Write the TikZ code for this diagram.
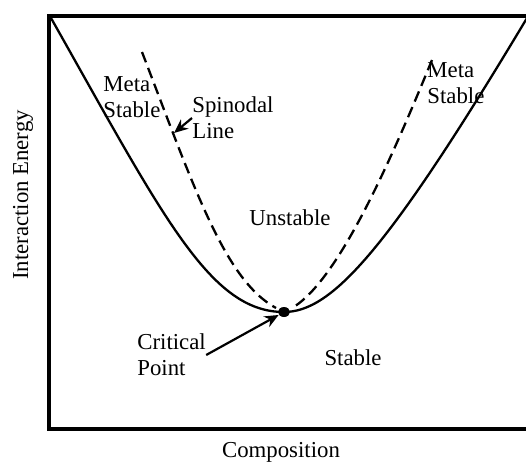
\documentclass[tikz,border=0pt]{standalone}
\usepackage{fontspec}
\setmainfont{Liberation Serif}
\usepackage{tikz}
\usetikzlibrary{positioning}
\usetikzlibrary{shapes.geometric}
\usetikzlibrary{arrows.meta}

\begin{document}
\begin{tikzpicture}[x=0.5pt, y=-0.5pt,
    lbl/.style={inner sep=0pt, align=left, font=\fontsize{11.4}{13}\selectfont},
    curve/.style={line width=1.15pt},
    spinodal/.style={line width=1.15pt, dash pattern=on 5.5pt off 3pt},
    pointer/.style={line width=1.1pt, -{Stealth[length=7pt, width=6pt]}}]
    \useasboundingbox (0,0) rectangle (526,462);

    % Frame (open on the right)
    \draw[line width=1.9pt] (527,16) -- (49,16) -- (49,429) -- (527,429);

    % Free energy curve
    \draw[curve] (51,18) .. controls (164,218) and (210,312) .. (284,312)
                         .. controls (332,312) and (388,250) .. (527,18);

    % Spinodal line
    \draw[spinodal] (142,52) .. controls (195,190) and (225,280) .. (276,308);
    \draw[spinodal] (432,60) .. controls (395,150) and (340,280) .. (292,308);

    % Critical point
    \node[ellipse, fill=black, inner sep=0pt, minimum width=6pt, minimum height=5pt] (crit) at (284,312) {};

    % Labels
    \node[lbl, anchor=north west] (metaL) at (103,76) {Meta\\Stable};
    \node[lbl, anchor=north west] (metaR) at (427,62) {Meta\\Stable};
    \node[lbl, anchor=west] (spin) at (192,118) {Spinodal\\Line};
    \node[lbl] (unst) at (290,218) {Unstable};
    \node[lbl, anchor=west] (critlbl) at (137,355) {Critical\\Point};
    \node[lbl] (stab) at (353,358) {Stable};
    \node[lbl] (xlab) at (281,452) {Composition};
    \node[lbl, rotate=90] (ylab) at (23,195) {Interaction Energy};

    % Pointers
    \coordinate (spinpt) at (174,133);
    \draw[pointer] (spin.west) -- (spinpt);
    \draw[pointer] (critlbl.east) -- (crit);
\end{tikzpicture}
\end{document}
